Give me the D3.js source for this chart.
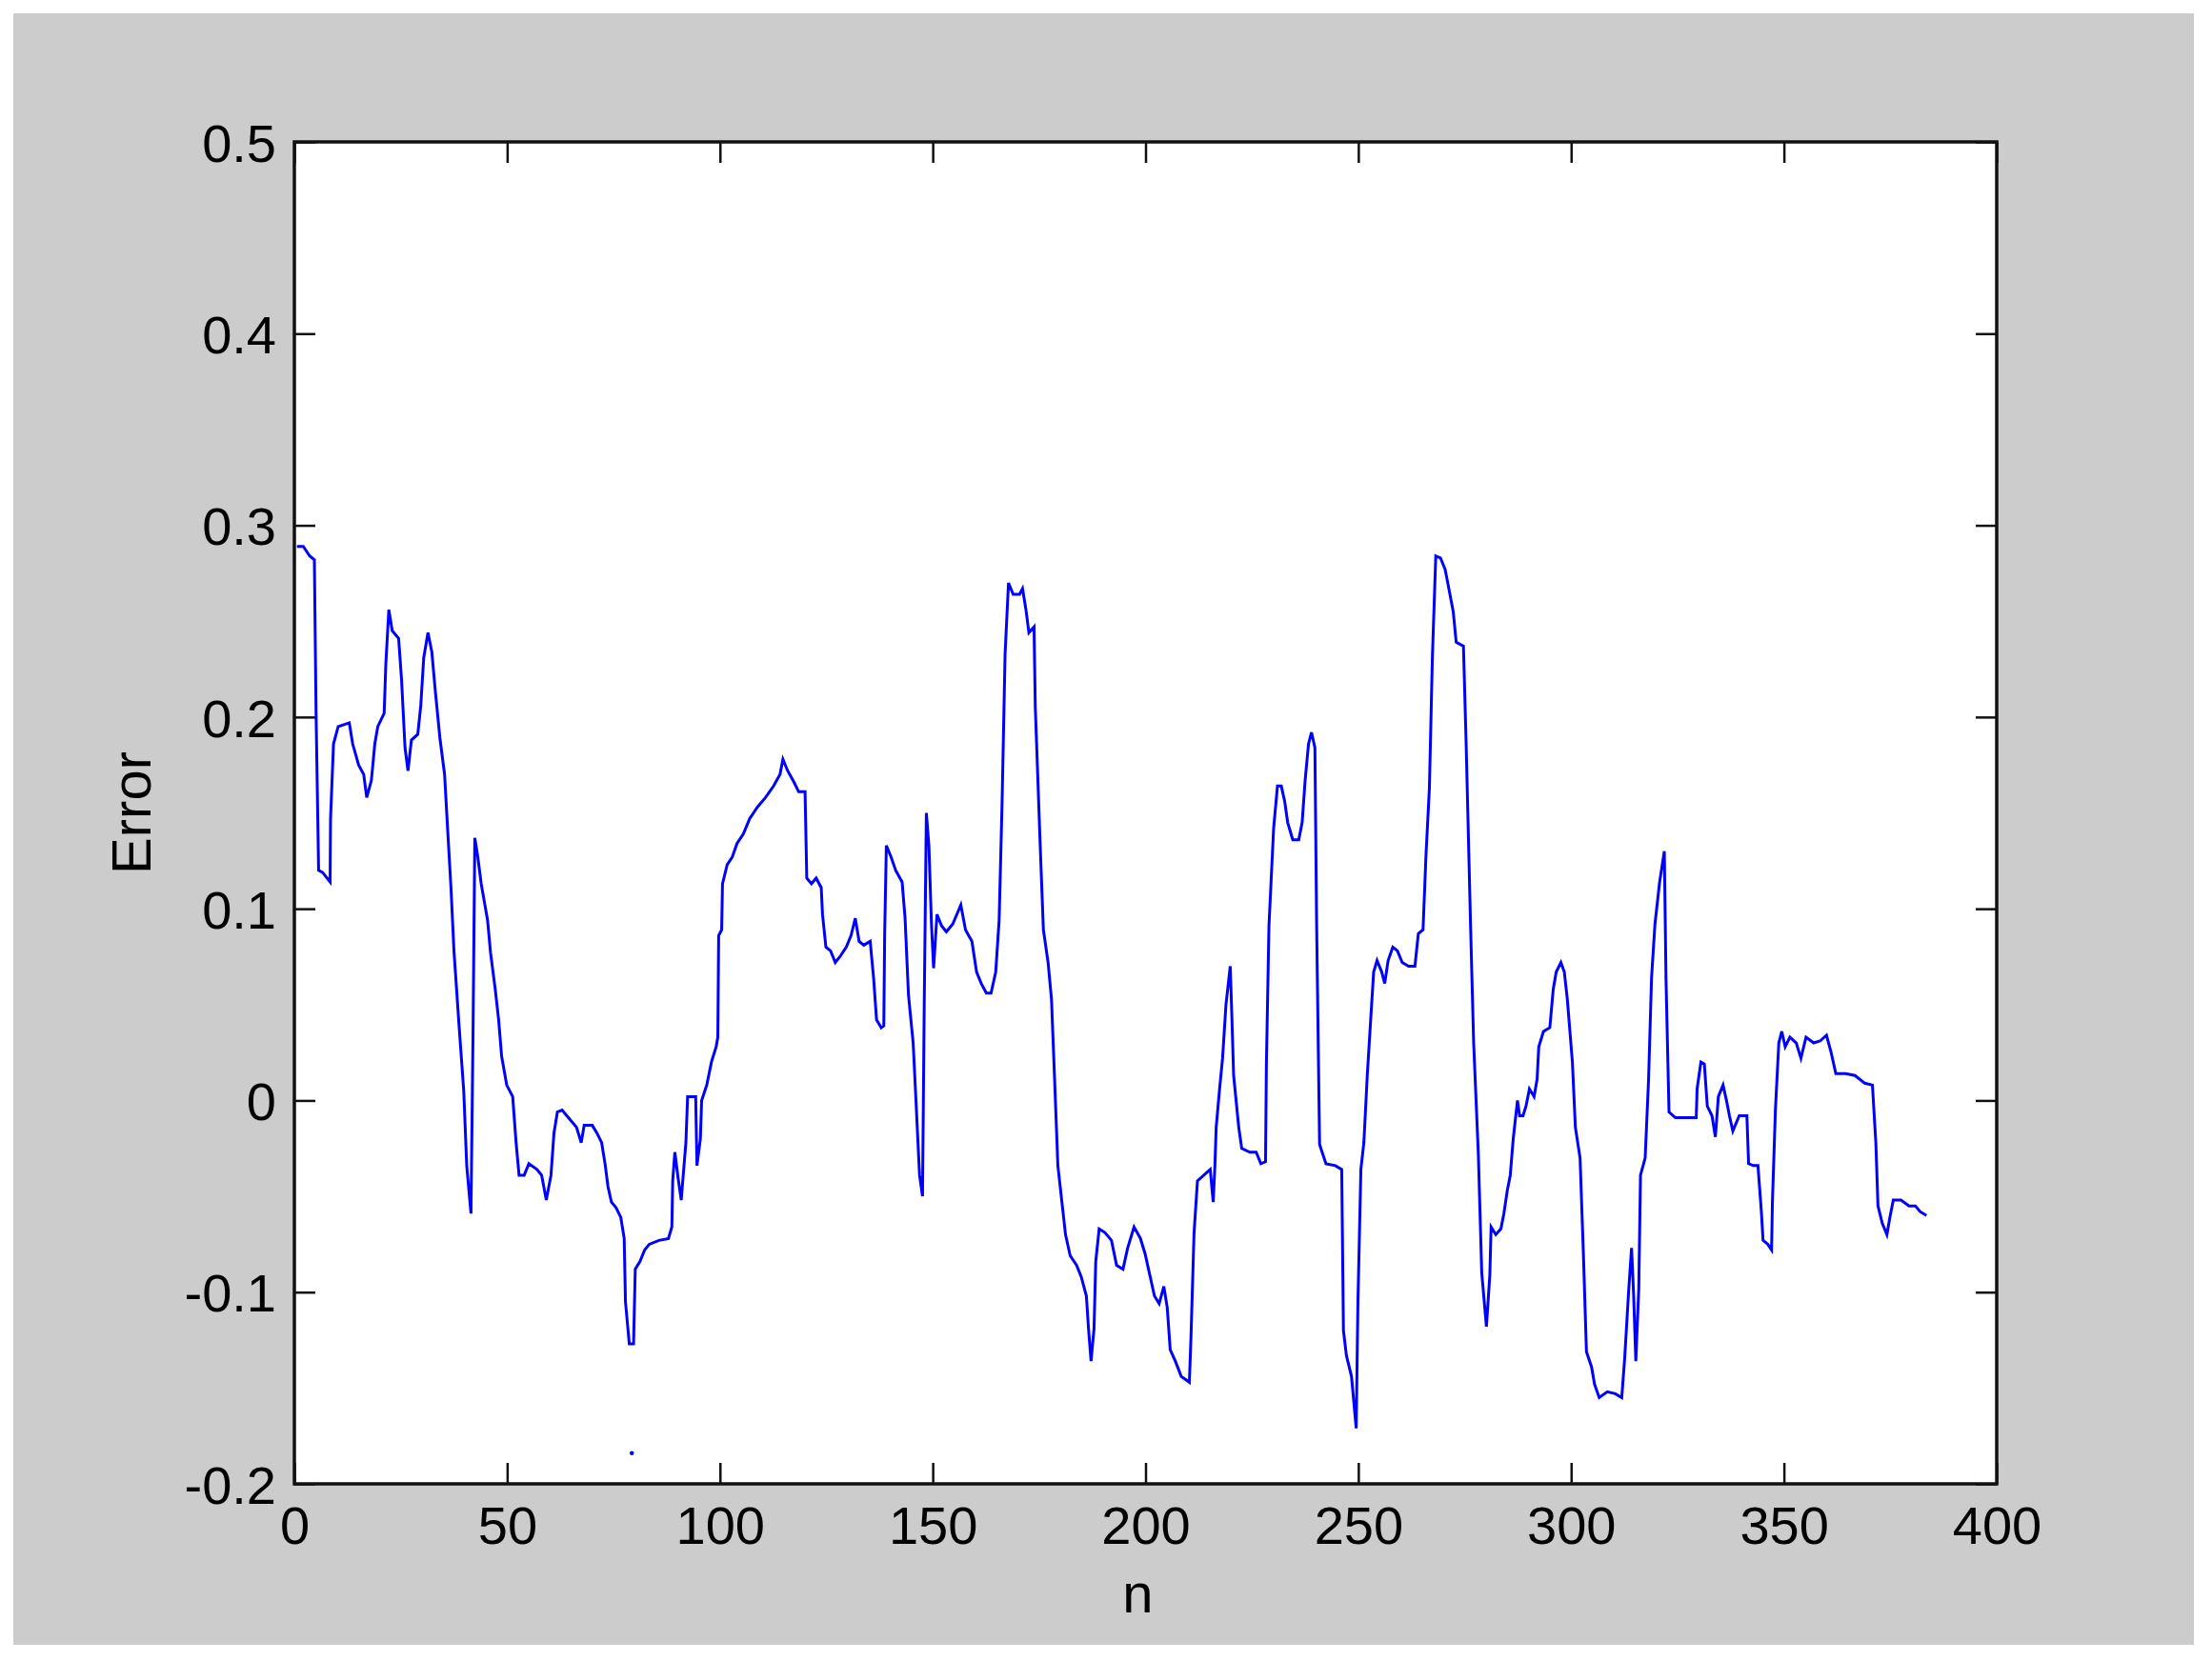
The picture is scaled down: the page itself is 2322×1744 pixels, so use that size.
<!DOCTYPE html>
<html>
<head>
<meta charset="utf-8">
<script src="https://cdn.jsdelivr.net/npm/d3@7/dist/d3.min.js"></script>
<style>
  body { margin: 0; background: #fff; }
  svg { display: block; font-family: "Liberation Sans", Arial, sans-serif; }
</style>
</head>
<body>
<svg id="chart" width="2322" height="1744"></svg>
<script>
// values
const nValues = [
  0.6, 2.1, 3.6, 4.7, 5.1, 5.7, 6.6, 8.4, 8.5, 9.2, 10.3, 12.9, 13.7, 15.1, 16.3, 17.0, 18.1, 18.9, 19.6, 21.1,
  21.5, 22.2, 23.0, 24.5, 25.2, 26.0, 26.7, 27.5, 29.0, 29.7, 30.4, 31.4, 32.3, 33.1, 34.2, 35.3, 36.0, 36.8, 37.5, 38.7,
  39.8, 40.5, 41.5, 42.0, 42.4, 43.1, 43.9, 45.4, 46.1, 47.2, 48.0, 48.7, 49.9, 51.3, 52.1, 52.8, 54.0, 55.1, 57.0, 58.1,
  59.2, 60.3, 61.0, 61.8, 62.9, 64.4, 66.3, 67.4, 68.1, 70.0, 71.1, 72.2, 73.0, 73.7, 74.5, 75.6, 76.7, 77.5, 77.8, 78.7,
  79.7, 80.1, 81.2, 82.3, 83.4, 85.7, 87.9, 88.7, 88.9, 89.4, 90.2, 90.9, 91.3, 92.0, 92.4, 94.3, 94.6, 95.4, 95.7, 96.9,
  98.0, 99.1, 99.5, 99.7, 100.4, 100.6, 101.7, 102.9, 104.0, 105.5, 107.0, 108.8, 110.7, 112.6, 114.1, 114.8, 115.9, 117.4, 118.5, 120.0,
  120.4, 121.5, 122.6, 123.8, 124.1, 124.9, 126.0, 127.1, 128.2, 129.7, 130.8, 131.8, 132.7, 133.8, 135.3, 136.1, 136.8, 137.9, 138.5, 138.7,
  139.1, 140.2, 141.3, 142.8, 143.5, 144.3, 145.4, 146.1, 146.9, 147.6, 148.0, 148.5, 149.1, 149.7, 150.2, 151.0, 152.1, 153.2, 154.7, 156.6,
  157.7, 159.2, 160.3, 161.4, 162.6, 163.7, 164.8, 165.6, 166.3, 167.0, 167.8, 168.9, 170.4, 171.1, 171.9, 172.6, 173.8, 174.1, 175.3, 176.0,
  177.1, 177.9, 178.6, 179.4, 180.5, 181.2, 182.3, 183.8, 184.9, 186.1, 186.6, 187.2, 187.9, 188.3, 189.1, 190.5, 192.0, 193.2, 194.7, 195.8,
  197.3, 198.8, 199.9, 201.0, 202.1, 203.2, 204.3, 205.1, 205.8, 207.0, 208.4, 210.3, 210.7, 211.4, 212.2, 213.7, 215.2, 215.9, 216.3, 216.6,
  217.4, 218.1, 218.9, 219.9, 220.2, 220.7, 221.9, 222.6, 224.5, 226.0, 227.1, 228.2, 228.4, 229.0, 230.1, 231.0, 231.9, 232.7, 233.4, 234.6,
  236.0, 236.8, 237.5, 238.3, 239.0, 239.8, 240.2, 240.9, 242.4, 244.6, 246.1, 246.5, 247.2, 248.4, 249.5, 249.9, 250.6, 251.3, 252.1, 252.9,
  253.6, 254.4, 255.5, 256.2, 257.0, 258.1, 259.2, 260.3, 261.8, 263.3, 264.1, 265.2, 265.9, 266.7, 267.4, 268.2, 269.3, 270.4, 271.1, 272.3,
  273.0, 274.7, 275.3, 276.4, 277.1, 278.2, 279.0, 280.1, 280.9, 281.2, 282.3, 283.5, 284.2, 285.0, 285.7, 286.4, 287.4, 287.9, 288.7, 289.4,
  290.2, 291.3, 292.0, 292.4, 293.5, 295.0, 295.8, 296.5, 297.6, 298.4, 299.1, 300.3, 301.0, 302.1, 302.9, 303.6, 304.8, 305.5, 306.6, 308.5,
  310.4, 311.9, 312.6, 313.5, 314.2, 314.7, 315.2, 315.9, 316.3, 317.4, 318.2, 318.9, 319.7, 320.8, 321.9, 322.3, 323.0, 324.5, 326.8, 329.4,
  329.6, 330.5, 331.3, 332.0, 333.1, 333.9, 334.6, 335.7, 336.5, 337.2, 338.0, 339.5, 341.3, 341.7, 342.8, 343.9, 344.7, 345.1, 346.2, 347.1,
  347.3, 348.0, 348.8, 349.5, 350.3, 351.4, 352.9, 354.0, 355.2, 357.0, 358.5, 360.0, 361.1, 362.2, 364.5, 366.7, 369.0, 370.8, 371.6, 372.1,
  373.1, 374.2, 374.9, 375.7, 377.5, 379.4, 380.9, 382.0, 383.5
];
const errValues = [
  0.289, 0.289, 0.284, 0.282, 0.202, 0.120, 0.119, 0.114, 0.147, 0.186, 0.195, 0.197, 0.186, 0.175, 0.170, 0.158, 0.167, 0.186, 0.195, 0.202,
  0.228, 0.256, 0.245, 0.241, 0.219, 0.184, 0.172, 0.188, 0.191, 0.206, 0.231, 0.244, 0.234, 0.214, 0.189, 0.170, 0.142, 0.111, 0.078, 0.039,
  0.005, -0.034, -0.059, 0.039, 0.137, 0.127, 0.113, 0.094, 0.077, 0.058, 0.042, 0.023, 0.008, 0.002, -0.022, -0.039, -0.039, -0.033, -0.036, -0.039,
  -0.052, -0.039, -0.017, -0.006, -0.005, -0.009, -0.014, -0.022, -0.013, -0.013, -0.017, -0.022, -0.033, -0.045, -0.053, -0.056, -0.061, -0.072, -0.105, -0.127,
  -0.127, -0.088, -0.084, -0.078, -0.075, -0.073, -0.072, -0.066, -0.042, -0.027, -0.041, -0.052, -0.041, -0.022, 0.002, 0.002, -0.034, -0.020, 0.000, 0.008,
  0.020, 0.028, 0.033, 0.086, 0.089, 0.113, 0.123, 0.127, 0.134, 0.139, 0.147, 0.153, 0.158, 0.164, 0.170, 0.178, 0.172, 0.166, 0.161, 0.161,
  0.116, 0.113, 0.116, 0.111, 0.097, 0.080, 0.078, 0.072, 0.075, 0.080, 0.086, 0.095, 0.083, 0.081, 0.083, 0.064, 0.042, 0.038, 0.039, 0.086,
  0.133, 0.127, 0.120, 0.114, 0.095, 0.055, 0.030, -0.002, -0.039, -0.050, 0.050, 0.150, 0.133, 0.092, 0.069, 0.097, 0.091, 0.088, 0.092, 0.102,
  0.089, 0.083, 0.067, 0.061, 0.056, 0.056, 0.067, 0.094, 0.156, 0.233, 0.270, 0.264, 0.264, 0.267, 0.256, 0.244, 0.247, 0.205, 0.130, 0.089,
  0.072, 0.053, 0.013, -0.034, -0.056, -0.070, -0.081, -0.086, -0.092, -0.102, -0.119, -0.136, -0.119, -0.084, -0.067, -0.069, -0.073, -0.086, -0.088, -0.077,
  -0.066, -0.072, -0.080, -0.091, -0.102, -0.106, -0.097, -0.108, -0.130, -0.136, -0.144, -0.147, -0.122, -0.069, -0.042, -0.039, -0.036, -0.053, -0.034, -0.014,
  0.006, 0.022, 0.050, 0.070, 0.050, 0.013, -0.014, -0.025, -0.027, -0.027, -0.033, -0.032, 0.019, 0.091, 0.142, 0.164, 0.164, 0.156, 0.145, 0.136,
  0.136, 0.145, 0.167, 0.186, 0.192, 0.184, 0.092, -0.023, -0.033, -0.034, -0.036, -0.120, -0.133, -0.144, -0.171, -0.106, -0.036, -0.022, 0.013, 0.042,
  0.067, 0.073, 0.067, 0.061, 0.073, 0.080, 0.078, 0.072, 0.070, 0.070, 0.087, 0.089, 0.128, 0.163, 0.231, 0.284, 0.283, 0.277, 0.269, 0.255,
  0.239, 0.237, 0.189, 0.089, 0.030, -0.028, -0.090, -0.118, -0.091, -0.066, -0.070, -0.067, -0.059, -0.047, -0.039, -0.020, 0.000, -0.008, -0.008, -0.003,
  0.006, 0.002, 0.011, 0.028, 0.036, 0.038, 0.058, 0.067, 0.072, 0.067, 0.053, 0.020, -0.014, -0.030, -0.081, -0.131, -0.139, -0.148, -0.155, -0.152,
  -0.153, -0.155, -0.134, -0.100, -0.077, -0.102, -0.136, -0.098, -0.039, -0.030, 0.011, 0.064, 0.092, 0.114, 0.130, 0.063, -0.006, -0.009, -0.009, -0.009,
  0.006, 0.020, 0.019, -0.003, -0.008, -0.019, 0.002, 0.008, 0.000, -0.008, -0.016, -0.008, -0.008, -0.033, -0.034, -0.034, -0.058, -0.073, -0.075, -0.078,
  -0.053, -0.005, 0.030, 0.036, 0.028, 0.033, 0.030, 0.022, 0.033, 0.030, 0.031, 0.034, 0.025, 0.014, 0.014, 0.013, 0.009, 0.008, -0.022, -0.055,
  -0.064, -0.070, -0.061, -0.052, -0.052, -0.055, -0.055, -0.058, -0.060
];
// lone blue dot below the curve near n = 79
const strayN = [79.3];
const strayErr = [-0.184];

const xTicks = [0, 50, 100, 150, 200, 250, 300, 350, 400];
const yTicks = [-0.2, -0.1, 0, 0.1, 0.2, 0.3, 0.4, 0.5];
const yTickLabels = ["-0.2", "-0.1", "0", "0.1", "0.2", "0.3", "0.4", "0.5"];
const xLabel = "n";
const yLabel = "Error";

const svg = d3.select("#chart");
const width = +svg.attr("width");
const height = +svg.attr("height");
const margin = { top: 149, right: 226, bottom: 186, left: 309 };
const innerWidth = width - margin.left - margin.right;
const innerHeight = height - margin.top - margin.bottom;

// grey figure background
svg.append("rect")
    .attr("x", 14).attr("y", 14)
    .attr("width", 2289).attr("height", 1713)
    .attr("fill", "#cccccc");

const g = svg.append("g").attr("transform", `translate(${margin.left},${margin.top})`);

g.append("rect")
    .attr("width", innerWidth)
    .attr("height", innerHeight)
    .attr("fill", "#fff");

const xScale = d3.scaleLinear().domain([0, 400]).range([0, innerWidth]);
const yScale = d3.scaleLinear().domain([-0.2, 0.5]).range([innerHeight, 0]);

function styleAxis(sel) {
    sel.select(".domain").remove();
    sel.selectAll(".tick line").attr("stroke", "#111").attr("stroke-width", 2.5);
    sel.selectAll(".tick text")
        .attr("fill", "#000")
        .style("font-size", "56px");
}

const xAxisG = g.append("g")
    .attr("transform", `translate(0,${innerHeight})`)
    .call(d3.axisBottom(xScale).tickValues(xTicks).tickSizeInner(-22).tickSizeOuter(0).tickFormat(d3.format("d")));
styleAxis(xAxisG);
xAxisG.selectAll(".tick text").attr("y", 63).attr("dy", null);

const yAxisG = g.append("g")
    .call(d3.axisLeft(yScale).tickValues(yTicks).tickSizeInner(-22).tickSizeOuter(0)
        .tickFormat((d, i) => yTickLabels[i]));
styleAxis(yAxisG);
yAxisG.selectAll(".tick text").attr("x", -19).attr("dy", "0.36em");

// mirrored ticks on top and right, no labels
const topG = g.append("g")
    .call(d3.axisTop(xScale).tickValues(xTicks).tickSizeInner(-22).tickSizeOuter(0).tickFormat(""));
styleAxis(topG);
const rightG = g.append("g")
    .attr("transform", `translate(${innerWidth},0)`)
    .call(d3.axisRight(yScale).tickValues(yTicks).tickSizeInner(-22).tickSizeOuter(0).tickFormat(""));
styleAxis(rightG);

const points = nValues.map((n, i) => ({ n, e: errValues[i] }));

const line = d3.line()
    .x(d => xScale(d.n))
    .y(d => yScale(d.e));

g.append("path")
    .datum(points)
    .attr("fill", "none")
    .attr("stroke", "#0000ff")
    .attr("stroke-width", 3)
    .attr("stroke-linejoin", "miter")
    .attr("d", line);

g.selectAll("circle.stray")
    .data(strayN.map((n, i) => ({ n, e: strayErr[i] })))
    .enter()
    .append("circle")
    .attr("class", "stray")
    .attr("cx", d => xScale(d.n))
    .attr("cy", d => yScale(d.e))
    .attr("r", 2.2)
    .attr("fill", "#0000ff");

// frame
g.append("rect")
    .attr("width", innerWidth)
    .attr("height", innerHeight)
    .attr("fill", "none")
    .attr("stroke", "#111")
    .attr("stroke-width", 3.5);

// axis labels
g.append("text")
    .attr("x", innerWidth / 2 - 8)
    .attr("y", innerHeight + 135)
    .attr("text-anchor", "middle")
    .style("font-size", "58px")
    .attr("fill", "#000")
    .text(xLabel);

g.append("text")
    .attr("transform", `translate(${158 - margin.left},${innerHeight / 2}) rotate(-90)`)
    .attr("text-anchor", "middle")
    .style("font-size", "58px")
    .attr("fill", "#000")
    .text(yLabel);
</script>
</body>
</html>
